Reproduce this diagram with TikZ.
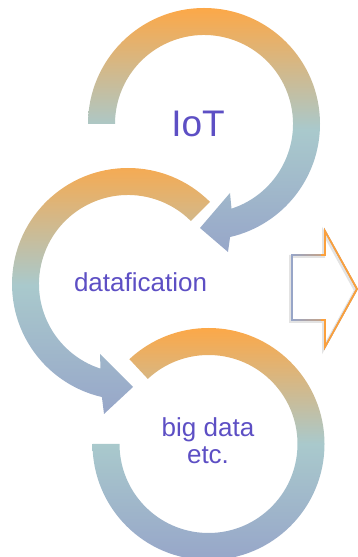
\documentclass[tikz,border=0pt]{standalone}
\usepackage{fontspec}
\setmainfont{Liberation Sans}
\usetikzlibrary{fadings}
\definecolor{cOr}{HTML}{FCA848}
\definecolor{cTe}{HTML}{A9C9CC}
\definecolor{cBl}{HTML}{97A6C9}
\definecolor{cTx}{HTML}{5D4FC4}
\definecolor{cAr}{HTML}{FBA03C}
\tikzfading[name=fadeR, left color=transparent!100, right color=transparent!0]
\begin{document}
\begin{tikzpicture}[x=1pt,y=1pt,
  ringshade/.style={top color=cOr, bottom color=cBl, middle color=cTe},
  lbl/.style={text=cTx, inner sep=0pt},
  blockpath/.style={line width=1.6pt, line join=miter}]
\useasboundingbox (0,0) rectangle (358,557);
\coordinate (c1) at (204,433);
\coordinate (c2) at (128,273);
\coordinate (c3) at (208.5,113);
% ring 1 (IoT)
\shade[ringshade] ([shift={(180:116)}]c1) arc[start angle=180, end angle=-77, radius=116]
  -- (228,305) -- (200,329) -- (230,364)
  -- ([shift={(-72:89)}]c1) arc[start angle=-72, end angle=180, radius=89] -- cycle;
% ring 2 (datafication)
\shade[ringshade] ([shift={(45:116)}]c2) arc[start angle=45, end angle=257, radius=116]
  -- (104,143) -- (133,170) -- (100,203)
  -- ([shift={(252:89)}]c2) arc[start angle=252, end angle=45, radius=89] -- cycle;
% ring 3 (big data)
\shade[ringshade] ([shift={(180:116)}]c3) arc[start angle=180, end angle=493, radius=116]
  -- ([shift={(133:89)}]c3) arc[start angle=493, end angle=180, radius=89] -- cycle;
% block arrow
\draw[blockpath, gray, opacity=0.22, line width=3pt, shift={(-1.5,-1.5)}]
  (292,302) -- (325,302) -- (325,326) -- (357,268) -- (325,210) -- (325,237) -- (292,237) -- cycle;
\draw[blockpath, cBl]
  (292,302) -- (325,302) -- (325,326) -- (357,268) -- (325,210) -- (325,237) -- (292,237) -- cycle;
\draw[blockpath, cAr, path fading=fadeR]
  (292,302) -- (325,302) -- (325,326) -- (357,268) -- (325,210) -- (325,237) -- (292,237) -- cycle;
\begin{scope}
  \clip (321,200) rectangle (360,340);
  \draw[blockpath, cAr]
    (292,302) -- (325,302) -- (325,326) -- (357,268) -- (325,210) -- (325,237) -- (292,237) -- cycle;
\end{scope}
% labels
\node[lbl, font=\fontsize{37}{40}\selectfont, anchor=base] (iot) at (198,420) {IoT};
\node[lbl, font=\fontsize{26}{28}\selectfont, anchor=base] (dat) at (140.5,265) {datafication};
\node[lbl, font=\fontsize{26}{27}\selectfont, align=center] (big) at (208,116) {big data\\etc.};
\end{tikzpicture}
\end{document}
